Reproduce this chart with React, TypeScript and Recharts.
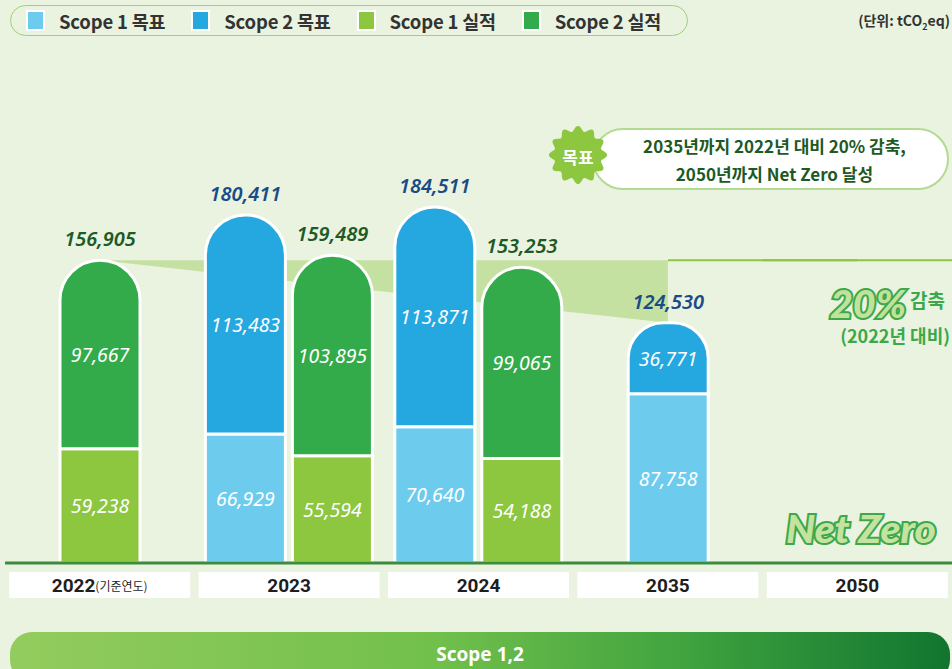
import React from 'react';
import { ComposedChart, Bar, Area, XAxis, YAxis, LabelList, ReferenceLine } from 'recharts';

// ---------- data ----------
const years = ['2022', '2023', '2024', '2035', '2050'];
const yearNotes = ['(기준연도)', '', '', '', ''];
const scope1Target: (number | null)[] = [null, 66929, 70640, 87758, null];
const scope2Target: (number | null)[] = [null, 113483, 113871, 36771, null];
const scope1Actual: (number | null)[] = [59238, 55594, 54188, null, null];
const scope2Actual: (number | null)[] = [97667, 103895, 99065, null, null];
const targetTotals: (number | null)[] = [null, 180411, 184511, 124530, null];
const actualTotals: (number | null)[] = [156905, 159489, 153253, null, null];
const seriesNames = ['Scope 1 목표', 'Scope 2 목표', 'Scope 1 실적', 'Scope 2 실적'];
const baseYearIndex = 0;
const goalYearIndex = 3;
const netZeroYearIndex = 4;

// ---------- styles ----------
const C = { s1t: '#6DCCEE', s2t: '#25A8E0', s1a: '#8DC63F', s2a: '#33AB4B' };
const seriesColors = [C.s1t, C.s2t, C.s1a, C.s2a];
const BG = '#EAF3E0';
const BLUE_TXT = '#1B4B86';
const GREEN_TXT = '#1D5A27';
const FONT = "'Noto Sans', 'Noto Sans CJK KR', sans-serif";
const KFONT = "'Noto Sans CJK KR', 'Noto Sans', sans-serif";

const baseLevel = actualTotals[baseYearIndex] as number;

const table = years.map((year, i) => {
  const hasT = scope1Target[i] != null;
  const hasA = scope1Actual[i] != null;
  const paired = hasT && hasA;
  return {
    year,
    pS1T: paired ? scope1Target[i] : null,
    pS2T: paired ? scope2Target[i] : null,
    pTotT: paired ? targetTotals[i] : null,
    pS1A: paired ? scope1Actual[i] : null,
    pS2A: paired ? scope2Actual[i] : null,
    pTotA: paired ? actualTotals[i] : null,
    sS1A: !paired && hasA ? scope1Actual[i] : null,
    sS2A: !paired && hasA ? scope2Actual[i] : null,
    sTotA: !paired && hasA ? actualTotals[i] : null,
    sS1T: !paired && hasT ? scope1Target[i] : null,
    sS2T: !paired && hasT ? scope2Target[i] : null,
    sTotT: !paired && hasT ? targetTotals[i] : null,
    band:
      i === baseYearIndex
        ? [baseLevel, baseLevel]
        : i === goalYearIndex
        ? [targetTotals[i], baseLevel]
        : null,
  };
});

const fmt = (v: number) => Number(v).toLocaleString('en-US');

const insideLabel = (props: any) => {
  const vb = props.viewBox || props;
  const value = props.value;
  if (value == null || !vb || !vb.height) return null;
  return (
    <text
      x={vb.x + vb.width / 2}
      y={vb.y + vb.height / 2}
      textAnchor="middle"
      dominantBaseline="central"
      fill="#fff"
      fontSize={19.5}
      fontStyle="italic"
      fontFamily={FONT}
    >
      {fmt(value)}
    </text>
  );
};

const totalLabel = (color: string) => (props: any) => {
  const vb = props.viewBox || props;
  const value = props.value;
  if (value == null || !vb) return null;
  return (
    <text
      x={vb.x + vb.width / 2}
      y={vb.y - 14}
      textAnchor="middle"
      fill={color}
      fontSize={20}
      fontWeight={600}
      fontStyle="italic"
      fontFamily={FONT}
    >
      {fmt(value)}
    </text>
  );
};

const YearTick = (props: any) => {
  const { x, y, payload } = props;
  const i = years.indexOf(String(payload.value));
  const note = yearNotes[i];
  return (
    <g>
      <rect x={x - 90.5} y={y} width={181} height={26} fill="#fff" />
      <text
        x={x}
        y={y + 13}
        textAnchor="middle"
        dominantBaseline="central"
        fontFamily={"Roboto, " + KFONT}
        fill="#1e1e1e"
      >
        <tspan fontSize={19} fontWeight={700}>{payload.value}</tspan>
        {note ? <tspan fontSize={12} fontFamily={KFONT}>{note}</tspan> : null}
      </text>
    </g>
  );
};

const sealPath = (cx: number, cy: number, r: number, amp: number, bumps: number) => {
  const pts: string[] = [];
  for (let k = 0; k <= 240; k++) {
    const t = (k / 240) * 2 * Math.PI;
    const rr = r + amp * Math.cos(bumps * t);
    pts.push(`${(cx + rr * Math.sin(t)).toFixed(2)},${(cy - rr * Math.cos(t)).toFixed(2)}`);
  }
  return 'M' + pts.join('L') + 'Z';
};

const barCommon = {
  stroke: '#fff',
  strokeWidth: 3,
  barSize: 80,
  isAnimationActive: false,
};

export default function App() {
  return (
    <div
      style={{
        position: 'absolute',
        left: 0,
        top: 0,
        width: 952,
        height: 669,
        background: BG,
        overflow: 'hidden',
        fontFamily: FONT,
      }}
    >
      {/* Legend */}
      <div
        style={{
          position: 'absolute',
          left: 10,
          top: 5,
          width: 678,
          height: 31,
          boxSizing: 'border-box',
          border: '1.5px solid #9FD07C',
          borderRadius: 16,
          display: 'flex',
          alignItems: 'center',
          paddingLeft: 15,
        }}
      >
        {seriesNames.map((n, i) => (
          <div key={n} style={{ display: 'flex', alignItems: 'center', width: 166 }}>
            <span
              style={{
                display: 'inline-block',
                width: 15,
                height: 17,
                background: seriesColors[i],
                border: '2px solid #fff',
              }}
            />
            <span
              style={{
                marginLeft: 14,
                fontSize: 18.5,
                fontWeight: 700,
                color: '#333',
                fontFamily: KFONT,
                whiteSpace: 'nowrap',
                letterSpacing: -0.2,
              }}
            >
              {n}
            </span>
          </div>
        ))}
      </div>

      {/* unit */}
      <div
        style={{
          position: 'absolute',
          right: 2,
          top: 10,
          fontSize: 14,
          fontWeight: 700,
          color: '#333',
          fontFamily: KFONT,
          whiteSpace: 'nowrap',
        }}
      >
        (단위: tCO<sub style={{ fontSize: 9 }}>2</sub>eq)
      </div>

      {/* Chart */}
      <div style={{ position: 'absolute', left: 0, top: 0 }}>
        <ComposedChart
          width={952}
          height={669}
          data={table}
          margin={{ top: 100, right: 0, bottom: 76, left: 5 }}
          barGap={7}
        >
          <XAxis
            xAxisId="pair"
            dataKey="year"
            height={30}
            axisLine={{ stroke: '#3C8C3F', strokeWidth: 3 }}
            tickLine={false}
            tickSize={0}
            tickMargin={9}
            interval={0}
            tick={(p: any) => <YearTick {...p} />}
          />
          <XAxis xAxisId="single" dataKey="year" hide />
          <YAxis domain={[0, 240000]} hide allowDataOverflow />
          <Area
            xAxisId="pair"
            dataKey="band"
            type="linear"
            stroke="none"
            fill="#C5E1A2"
            fillOpacity={1}
            connectNulls
            dot={false}
            activeDot={false}
            isAnimationActive={false}
          />
          <ReferenceLine
            xAxisId="pair"
            segment={[
              { x: years[goalYearIndex], y: baseLevel },
              { x: years[netZeroYearIndex], y: baseLevel },
            ]}
            stroke="#8DC63F"
            strokeWidth={2}
          />
          <ReferenceLine
            xAxisId="pair"
            position="end"
            segment={[
              { x: years[goalYearIndex], y: baseLevel },
              { x: years[netZeroYearIndex], y: baseLevel },
            ]}
            stroke="#8DC63F"
            strokeWidth={2}
          />

          <Bar xAxisId="pair" dataKey="pS1T" stackId="target" fill={C.s1t} {...barCommon}>
            <LabelList dataKey="pS1T" content={insideLabel} />
          </Bar>
          <Bar xAxisId="pair" dataKey="pS2T" stackId="target" fill={C.s2t} radius={[40, 40, 0, 0]} {...barCommon}>
            <LabelList dataKey="pS2T" content={insideLabel} />
            <LabelList dataKey="pTotT" content={totalLabel(BLUE_TXT)} />
          </Bar>
          <Bar xAxisId="pair" dataKey="pS1A" stackId="actual" fill={C.s1a} {...barCommon}>
            <LabelList dataKey="pS1A" content={insideLabel} />
          </Bar>
          <Bar xAxisId="pair" dataKey="pS2A" stackId="actual" fill={C.s2a} radius={[40, 40, 0, 0]} {...barCommon}>
            <LabelList dataKey="pS2A" content={insideLabel} />
            <LabelList dataKey="pTotA" content={totalLabel(GREEN_TXT)} />
          </Bar>

          <Bar xAxisId="single" dataKey="sS1A" stackId="single" fill={C.s1a} {...barCommon}>
            <LabelList dataKey="sS1A" content={insideLabel} />
          </Bar>
          <Bar xAxisId="single" dataKey="sS2A" stackId="single" fill={C.s2a} radius={[40, 40, 0, 0]} {...barCommon}>
            <LabelList dataKey="sS2A" content={insideLabel} />
            <LabelList dataKey="sTotA" content={totalLabel(GREEN_TXT)} />
          </Bar>
          <Bar xAxisId="single" dataKey="sS1T" stackId="single" fill={C.s1t} {...barCommon}>
            <LabelList dataKey="sS1T" content={insideLabel} />
          </Bar>
          <Bar xAxisId="single" dataKey="sS2T" stackId="single" fill={C.s2t} radius={[40, 40, 0, 0]} {...barCommon}>
            <LabelList dataKey="sS2T" content={insideLabel} />
            <LabelList dataKey="sTotT" content={totalLabel(BLUE_TXT)} />
          </Bar>
        </ComposedChart>
      </div>

      {/* Callout */}
      <div
        style={{
          position: 'absolute',
          left: 592,
          top: 128,
          width: 357,
          height: 62,
          boxSizing: 'border-box',
          background: '#fff',
          border: '2px solid #B3DA92',
          borderRadius: 31,
          color: '#1D5A23',
          fontSize: 17,
          fontWeight: 600,
          fontFamily: KFONT,
          lineHeight: '28px',
          textAlign: 'center',
          paddingTop: 2,
          paddingLeft: 8,
          whiteSpace: 'nowrap',
        }}
      >
        <div>2035년까지 2022년 대비 20% 감축,</div>
        <div>2050년까지 Net Zero 달성</div>
      </div>

      {/* Annotation overlay */}
      <svg
        width={952}
        height={669}
        style={{ position: 'absolute', left: 0, top: 0, pointerEvents: 'none' }}
      >
        <path d={sealPath(578, 155, 26.5, 2.6, 12)} fill="#8DC63F" />
        <text
          x={578}
          y={156}
          textAnchor="middle"
          dominantBaseline="central"
          fill="#fff"
          fontSize={17}
          fontWeight={700}
          fontFamily={KFONT}
        >
          목표
        </text>

        <text
          x={830}
          y={318}
          fontSize={38}
          fontStyle="italic"
          fontWeight={900}
          fontFamily="Lato, 'DejaVu Sans', sans-serif"
          fill="#C2E29C"
          stroke="#3CA84A"
          strokeWidth={4}
          paintOrder="stroke"
          textLength={76}
          lengthAdjust="spacingAndGlyphs"
        >
          20%
        </text>
        <text x={910} y={308} fontSize={19} fontWeight={600} fill="#3CA84A" fontFamily={KFONT}>
          감축
        </text>
        <text
          x={950}
          y={343}
          textAnchor="end"
          fontSize={18}
          fontWeight={600}
          fill="#3CA84A"
          fontFamily={KFONT}
        >
          (2022년 대비)
        </text>

        <text
          x={786}
          y={543}
          fontSize={38}
          fontStyle="italic"
          fontWeight={900}
          fontFamily="Lato, 'DejaVu Sans', sans-serif"
          fill="#C5E3A0"
          stroke="#3CA84A"
          strokeWidth={4}
          paintOrder="stroke"
          textLength={150}
          lengthAdjust="spacingAndGlyphs"
        >
          Net Zero
        </text>
      </svg>

      {/* Bottom banner */}
      <div
        style={{
          position: 'absolute',
          left: 10,
          top: 632,
          width: 940,
          height: 50,
          borderRadius: 22,
          background: 'linear-gradient(90deg, #93CC5E 0%, #72C04C 45%, #3FA33F 72%, #117530 100%)',
          color: '#fff',
          fontSize: 19,
          fontWeight: 700,
          fontFamily: FONT,
          textAlign: 'center',
          lineHeight: '44px',
        }}
      >
        Scope 1,2
      </div>
    </div>
  );
}
